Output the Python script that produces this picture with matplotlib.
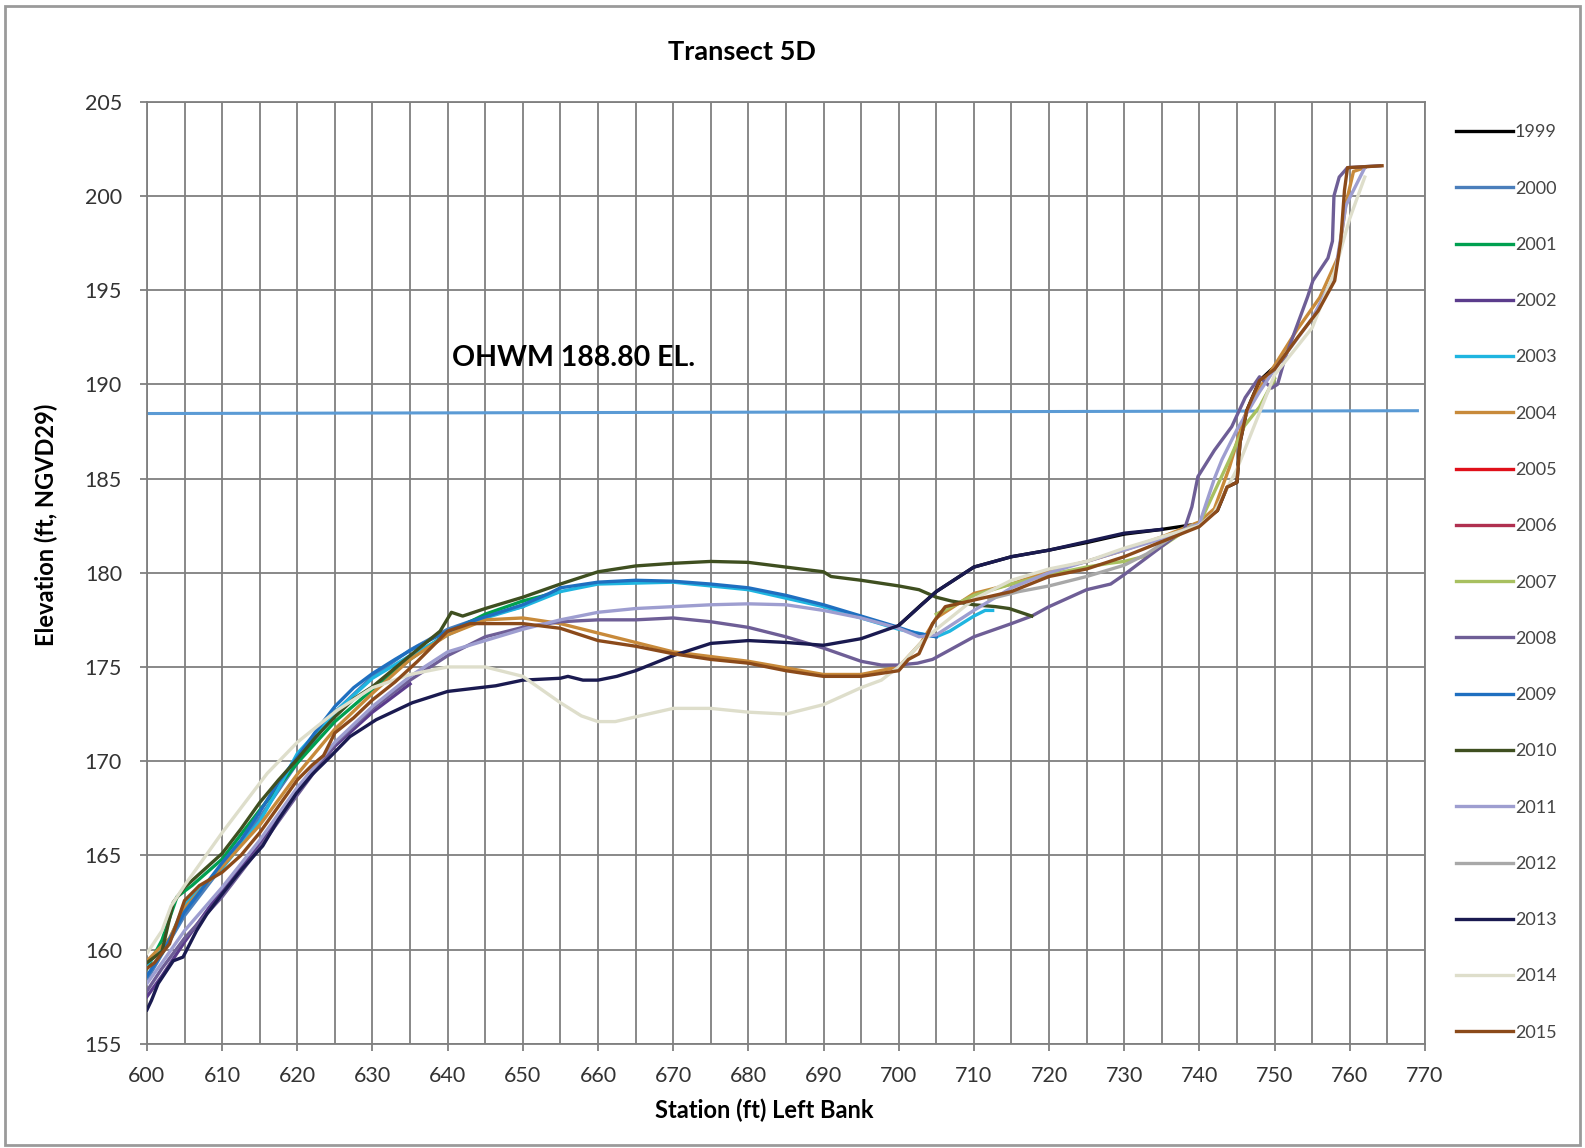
import matplotlib.pyplot as plt
from matplotlib.patches import Rectangle

plt.rcParams['font.family'] = ['Lato', 'DejaVu Sans']

# --- survey data (station ft, elevation ft) ---
years = ['1999', '2000', '2001', '2002', '2003', '2004', '2005', '2006', '2007',
         '2008', '2009', '2010', '2011', '2012', '2013', '2014', '2015']

x_1999 = [700, 703, 705, 710, 715, 720, 725, 730, 735, 740, 742.4, 743.7, 745, 745.4, 746.3, 748, 751]
y_1999 = [177.2, 178.3, 179.0, 180.3, 180.85, 181.2, 181.6, 182.05, 182.3, 182.6, 183.3, 184.55, 184.8,
          186.9, 188.6, 190.2, 191.3]

x_2000 = [600, 605, 610, 615, 620, 625, 630, 635, 640, 645, 650]
y_2000 = [158.4, 161.8, 164.4, 167.0, 169.9, 172.6, 174.5, 175.9, 177.0, 177.7, 178.2]

x_2001 = [600, 602, 604, 606, 610, 615, 620, 625, 630, 635, 640, 645, 650, 655]
y_2001 = [159.0, 160.5, 162.8, 163.4, 164.8, 167.4, 169.9, 172.1, 173.8, 175.4, 176.8, 177.8, 178.5, 179.0]

x_2002 = [600, 602, 605, 610, 615, 620, 625, 630, 635]
y_2002 = [157.5, 158.6, 160.4, 163.2, 165.6, 168.4, 170.8, 172.6, 174.1]

x_2003 = [600, 603, 605, 610, 615, 617, 620, 625, 630, 635, 640, 645, 650, 655, 660, 670, 680, 690,
          700, 705, 706.8, 710, 711.5, 712.5]
y_2003 = [159.2, 160.5, 162.4, 164.3, 166.8, 168.2, 170.4, 172.6, 174.4, 175.6, 176.7, 177.6, 178.2,
          179.0, 179.4, 179.5, 179.1, 178.2, 177.0, 176.6, 176.9, 177.7, 178.0, 178.0]

x_2004 = [600, 603, 605, 610, 615, 620, 625, 630, 635, 640, 645, 650, 655, 660, 670, 680, 690, 695,
          700, 703, 705, 710, 715, 720, 725, 730, 735, 740, 742, 744, 746, 748, 750, 753, 756, 758.5,
          759.5, 760.5, 762]
y_2004 = [159.4, 160.6, 162.2, 164.4, 166.6, 169.3, 171.7, 173.6, 175.4, 176.7, 177.5, 177.6, 177.3,
          176.8, 175.8, 175.3, 174.6, 174.6, 175.0, 176.3, 177.6, 178.9, 179.4, 180.1, 180.6, 181.2,
          181.9, 182.7, 183.4, 185.6, 188.3, 189.8, 191.0, 192.9, 194.6, 196.8, 199.6, 201.3, 201.5]

x_2005 = []
y_2005 = []

x_2006 = []
y_2006 = []

x_2007 = [705, 710, 715, 720, 725, 728, 730, 733, 735, 738, 740, 742, 744, 746, 748, 750]
y_2007 = [177.8, 178.8, 179.4, 179.9, 180.3, 180.5, 180.6, 180.9, 181.4, 182.2, 182.6, 184.3, 186.0,
          187.8, 188.8, 190.3]

x_2008 = [600, 602, 605, 610, 615, 620, 625, 630, 635, 640, 645, 650, 655, 660, 665, 670, 675, 680,
          685, 690, 695, 697.7, 700, 702.5, 704.5, 706.8, 710, 715, 717.7, 720, 725, 728.2, 730, 735,
          738, 739, 739.8, 742, 744.3, 746.1, 748, 749.6, 750.4, 751.4, 754.4, 755.1, 757.1, 757.7,
          757.9, 758.6, 759.7, 764]
y_2008 = [157.8, 159.0, 160.6, 162.8, 165.4, 168.2, 170.9, 172.8, 174.3, 175.6, 176.6, 177.1, 177.4,
          177.5, 177.5, 177.6, 177.4, 177.1, 176.6, 176.0, 175.3, 175.1, 175.1, 175.2, 175.4, 175.9,
          176.6, 177.3, 177.7, 178.2, 179.1, 179.4, 179.9, 181.4, 182.3, 183.5, 185.1, 186.5, 187.75,
          189.3, 190.4, 189.8, 190.0, 191.4, 194.65, 195.5, 196.7, 197.6, 200.0, 201.0, 201.5, 201.6]

x_2009 = [600, 602, 605, 607.5, 610, 612.5, 615, 617.5, 620, 622.5, 625, 627.5, 630, 633, 636, 640,
          643, 646.9, 650, 653.5, 655, 660, 665, 670, 675, 680, 685, 690, 695, 700, 702.2, 705]
y_2009 = [158.6, 159.8, 162.0, 163.3, 164.6, 165.8, 167.3, 168.9, 170.2, 171.6, 172.9, 173.9, 174.65,
          175.4, 176.1, 176.9, 177.4, 177.9, 178.3, 178.9, 179.2, 179.5, 179.6, 179.55, 179.4, 179.2,
          178.8, 178.3, 177.7, 177.1, 176.8, 176.6]

x_2010 = [600, 601, 602, 603.5, 605, 607.5, 610, 612.5, 615, 617.5, 620, 622.5, 625, 627.5, 630, 635,
          639, 640.5, 642, 645, 650, 655, 660, 665, 670, 675, 680, 685, 690, 691, 695, 700, 702.7, 705,
          707, 710, 712.9, 714.7, 717.7]
y_2010 = [159.3, 159.6, 159.9, 162.5, 163.3, 164.2, 165.1, 166.4, 167.8, 169.0, 170.1, 171.3, 172.35,
          173.3, 173.95, 175.6, 176.9, 177.9, 177.7, 178.1, 178.7, 179.4, 180.05, 180.36, 180.5, 180.6,
          180.55, 180.3, 180.05, 179.8, 179.6, 179.3, 179.1, 178.7, 178.5, 178.3, 178.2, 178.1, 177.7]

x_2011 = [600, 602, 605, 610, 615, 620, 625, 630, 635, 640, 645, 650, 655, 660, 665, 670, 675, 680,
          685, 690, 695, 700, 702.7, 705, 710, 715, 720, 725, 730, 735, 740, 741, 742, 743, 745, 748,
          750, 755, 758, 759.5, 762]
y_2011 = [158.2, 159.3, 161.0, 163.3, 165.8, 168.6, 171.0, 172.9, 174.5, 175.8, 176.4, 177.0, 177.5,
          177.9, 178.1, 178.2, 178.3, 178.35, 178.3, 178.0, 177.6, 177.05, 176.6, 176.7, 178.0, 179.2,
          180.0, 180.6, 181.2, 181.8, 182.6, 183.8, 185.0, 186.0, 187.6, 189.6, 190.8, 193.5, 195.8,
          199.5, 201.5]

x_2012 = [712, 716, 720, 725, 730, 733, 736, 739]
y_2012 = [178.6, 179.0, 179.3, 179.8, 180.4, 181.0, 181.8, 182.5]

x_2013 = [600, 600.6, 601.5, 603.5, 604.8, 606.6, 608, 610.1, 612.5, 615.4, 617.5, 619.9, 622, 624.3,
          627, 630.5, 635.3, 640, 646.4, 650, 655, 656, 658, 660, 662.5, 665, 670, 675, 680, 685, 690,
          695, 700, 705, 710, 715, 720, 725, 730, 735]
y_2013 = [156.8, 157.3, 158.2, 159.4, 159.6, 161.0, 161.9, 163.0, 164.2, 165.5, 166.9, 168.3, 169.3,
          170.2, 171.3, 172.2, 173.1, 173.7, 174.0, 174.3, 174.4, 174.5, 174.3, 174.3, 174.5, 174.8,
          175.6, 176.25, 176.4, 176.3, 176.15, 176.5, 177.2, 179.0, 180.3, 180.85, 181.2, 181.65,
          182.1, 182.3]

x_2014 = [600, 602, 603.2, 605, 610, 616, 620, 625.3, 630, 635, 640, 645, 650, 655, 657.8, 660, 662.3,
          665, 670, 675, 680, 685, 690, 695, 697.7, 700, 703, 705, 710, 715, 720, 725, 730, 735, 740,
          742, 745, 748, 750, 755, 758, 760, 762]
y_2014 = [159.8, 161.0, 162.3, 163.4, 166.2, 169.35, 171.0, 172.7, 173.9, 174.6, 175.0, 175.0, 174.5,
          173.1, 172.4, 172.1, 172.1, 172.35, 172.8, 172.8, 172.6, 172.5, 173.0, 173.9, 174.3, 175.0,
          176.3, 177.0, 178.6, 179.6, 180.2, 180.6, 181.3, 181.9, 182.5, 183.2, 185.5, 188.5, 190.5,
          193.0, 196.0, 198.8, 201.0]

x_2015 = [600, 601, 603, 605, 607, 610, 612.5, 615, 617.5, 620, 622, 623.5, 625, 627.5, 630, 633, 636,
          640, 643, 646.9, 650, 655, 660, 665, 670, 675, 680, 685, 690, 695, 700, 701.3, 702.7, 704.5,
          706.2, 710, 715, 720, 725, 730, 735, 740, 742.4, 743.7, 745, 745.4, 746.3, 748, 750, 753.1,
          755.8, 758, 758.8, 759.3, 759.7, 764.3]
y_2015 = [159.0, 159.3, 160.3, 162.6, 163.4, 164.1, 165.0, 166.2, 167.6, 169.0, 169.8, 170.3, 171.5,
          172.3, 173.25, 174.2, 175.3, 176.9, 177.3, 177.3, 177.3, 177.05, 176.4, 176.1, 175.7, 175.4,
          175.2, 174.8, 174.5, 174.5, 174.8, 175.4, 175.7, 177.3, 178.2, 178.55, 179.0, 179.8, 180.2,
          180.85, 181.65, 182.45, 183.3, 184.55, 184.8, 186.9, 188.6, 190.2, 190.8, 192.5, 193.9,
          195.5, 197.6, 200.3, 201.5, 201.6]

# ordinary high water mark line
ohwm_x = [600, 769]
ohwm_y = [188.45, 188.6]

colors = ['#000000', '#4a7ebb', '#00a050', '#5b3c8c', '#1fb5e0', '#c88a3a', '#e0101a', '#b03050',
          '#a8c060', '#6e5e96', '#1f6fc0', '#3f4f20', '#9e9ed0', '#a8a8a8', '#1a1a50', '#dedecb',
          '#8b4a1a']

series = [(x_1999, y_1999), (x_2000, y_2000), (x_2001, y_2001), (x_2002, y_2002), (x_2003, y_2003),
          (x_2004, y_2004), (x_2005, y_2005), (x_2006, y_2006), (x_2007, y_2007), (x_2008, y_2008),
          (x_2009, y_2009), (x_2010, y_2010), (x_2011, y_2011), (x_2012, y_2012), (x_2013, y_2013),
          (x_2014, y_2014), (x_2015, y_2015)]

fig = plt.figure(figsize=(15.85, 11.48), dpi=100)
ax = fig.add_axes([0.0927, 0.0908, 0.8063, 0.8206])

ax.plot(ohwm_x, ohwm_y, color='#5b9bd5', lw=2.2, zorder=2)

for (xs, ys), yr, c in zip(series, years, colors):
    ax.plot(xs, ys, color=c, lw=2.4, label=yr, zorder=3)

ax.text(640.6, 191.4, 'OHWM 188.80 EL.', fontsize=20.5, fontweight='bold', va='center', ha='left')

ax.set_xlim(600, 770)
ax.set_ylim(155, 205)
ax.set_xticks(range(600, 771, 10))
ax.set_xticks(range(605, 770, 10), minor=True)
ax.set_yticks(range(155, 206, 5))
ax.grid(which='both', color='#7f7f7f', lw=1.3)
ax.set_axisbelow(True)
ax.tick_params(which='major', length=5, width=1.3, color='#7f7f7f', labelsize=15.5,
               labelcolor='#333333')
ax.tick_params(axis='y', pad=13)
ax.tick_params(axis='x', pad=11)
ax.tick_params(which='minor', length=0)
for s in ax.spines.values():
    s.set_color('#7f7f7f')
    s.set_linewidth(1.3)

fig.text(0.482, 0.0331, 'Station (ft) Left Bank', fontsize=17, fontweight='bold',
         ha='center', va='center')
fig.text(0.029, 0.5427, 'Elevation (ft, NGVD29)', fontsize=17, fontweight='bold',
         ha='center', va='center', rotation=90)
fig.text(0.468, 0.9547, 'Transect 5D', fontsize=19.5, fontweight='bold', ha='center', va='center')

fig.legend(loc='upper left', bbox_to_anchor=(0.913, 0.8995), frameon=False, fontsize=13,
           handlelength=3.15, handletextpad=0.1, labelspacing=2.23, borderpad=0,
           labelcolor='#444444')

fig.patches.append(Rectangle((0.003, 0.003), 0.994, 0.992, transform=fig.transFigure,
                             fill=False, edgecolor='#9a9a9a', lw=2))

fig.savefig('out.png', dpi=100)
